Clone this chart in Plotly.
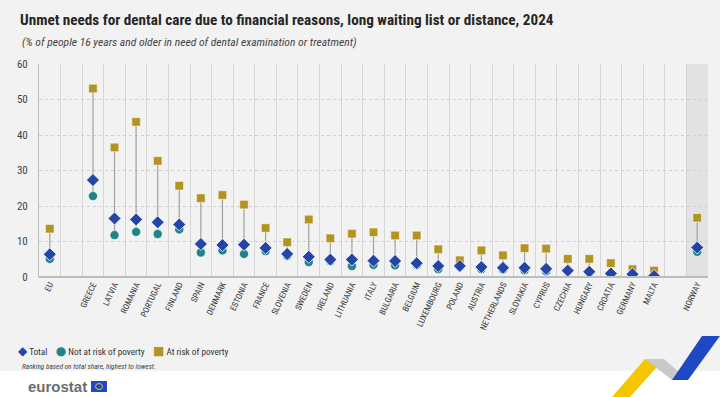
import plotly.graph_objects as go

# ---------------- data ----------------
countries = ["EU", "", "GREECE", "LATVIA", "ROMANIA", "PORTUGAL", "FINLAND", "SPAIN",
             "DENMARK", "ESTONIA", "FRANCE", "SLOVENIA", "SWEDEN", "IRELAND", "LITHUANIA",
             "ITALY", "BULGARIA", "BELGIUM", "LUXEMBOURG", "POLAND", "AUSTRIA",
             "NETHERLANDS", "SLOVAKIA", "CYPRUS", "CZECHIA", "HUNGARY", "CROATIA",
             "GERMANY", "MALTA", " ", "NORWAY"]
total = [6.4, None, 27.3, 16.5, 16.2, 15.4, 14.8, 9.3, 9.0, 9.1, 8.2, 6.5, 5.7, 4.9, 4.9,
         4.6, 4.5, 3.9, 3.1, 3.1, 2.8, 2.6, 2.6, 2.3, 1.8, 1.5, 1.0, 0.8, 0.3, None, 8.3]
not_at_risk = [5.1, None, 22.8, 11.8, 12.7, 12.1, 13.4, 6.9, 7.5, 6.5, 7.3, 6.0, 4.2, 4.5, 3.1,
               3.4, 3.3, 3.4, 2.2, 3.0, 2.2, 2.1, 1.9, 1.6, 1.6, 1.3, 0.8, 0.7, 0.2, None, 7.1]
at_risk = [13.6, None, 53.1, 36.5, 43.7, 32.7, 25.7, 22.2, 23.1, 20.4, 13.8, 9.8, 16.2, 10.9,
           12.2, 12.6, 11.7, 11.7, 7.8, 4.7, 7.5, 6.1, 8.1, 8.0, 5.1, 5.1, 3.9, 2.2, 1.8, None, 16.7]
y_ticks = [0, 10, 20, 30, 40, 50, 60]
series_names = ["Total", "Not at risk of poverty", "At risk of poverty"]

# ---------------- styling ----------------
W, H = 720, 397
ML, MR, MT, MB = 39, 12, 64, 120
FONT = "Liberation Sans Narrow, Roboto Condensed, DejaVu Sans Condensed, Arial Narrow, sans-serif"
BG = "#F2F2F2"
C_TOTAL = "#2644A7"
C_NOT = "#208486"
C_RISK = "#B39422"

xs = list(range(len(countries)))

def px2paper(px, py):
    return (px - ML) / (W - ML - MR), (H - MB - py) / (H - MT - MB)

fig = go.Figure()

# connecting lines min -> max
lx, ly = [], []
for i in xs:
    vals = [v for v in (total[i], not_at_risk[i], at_risk[i]) if v is not None]
    if vals:
        lx += [i, i, None]
        ly += [min(vals), max(vals), None]
fig.add_trace(go.Scatter(x=lx, y=ly, mode="lines", line=dict(color="#A0A0A0", width=1.2),
                         showlegend=False, hoverinfo="skip"))

fig.add_trace(go.Scatter(x=xs, y=at_risk, mode="markers", name=series_names[2],
                         marker=dict(symbol="square", size=8.5, color=C_RISK,
                                     line=dict(color="white", width=0.5))))
fig.add_trace(go.Scatter(x=xs, y=not_at_risk, mode="markers", name=series_names[1],
                         marker=dict(symbol="circle", size=9, color=C_NOT,
                                     line=dict(color="white", width=0.5))))
fig.add_trace(go.Scatter(x=xs, y=total, mode="markers", name=series_names[0],
                         marker=dict(symbol="diamond", size=10, color=C_TOTAL,
                                     line=dict(color="white", width=0.8))))

tick_pos = [i for i, c in enumerate(countries) if c.strip()]
tick_txt = [countries[i] for i in tick_pos]

fig.update_xaxes(range=[-0.5, len(countries) - 0.5], tickmode="array", tickvals=tick_pos,
                 ticktext=tick_txt, tickangle=-65, showgrid=False, zeroline=False,
                 tickfont=dict(family=FONT, size=8.5, color="#333"), ticks="",
                 showline=False,
                 minor=dict(tick0=0.5, dtick=1, showgrid=True, gridcolor="#D6D6D6", gridwidth=1))
fig.update_yaxes(range=[0, 60], tickmode="array", tickvals=y_ticks, showgrid=True,
                 gridcolor="#D0D0D0", griddash="dot", gridwidth=1, zeroline=False,
                 showline=True, linecolor="#BDBDBD", linewidth=1, ticks="",
                 ticklabelstandoff=8,
                 tickfont=dict(family=FONT, size=11, color="#444"))

shapes = []
# white band at the bottom
x0, y0 = px2paper(0, H)
x1, y1 = px2paper(W, 371)
shapes.append(dict(type="rect", xref="paper", yref="paper", x0=x0, x1=x1, y0=y0, y1=y1,
                   fillcolor="white", line=dict(width=0), layer="below"))
# Norway shading
shapes.append(dict(type="rect", xref="x", yref="paper", x0=len(countries) - 1.5,
                   x1=len(countries) - 0.5, y0=0, y1=1, fillcolor="#E2E2E2",
                   line=dict(width=0), layer="below"))
# bottom axis line
shapes.append(dict(type="line", xref="paper", yref="paper", x0=0, x1=1, y0=0, y1=0,
                   line=dict(color="#BDBDBD", width=2)))

def poly(points, color):
    pts = [px2paper(a, b) for a, b in points]
    path = "M " + " L ".join(f"{a:.4f},{b:.4f}" for a, b in pts) + " Z"
    return dict(type="path", xref="paper", yref="paper", path=path, fillcolor=color,
                line=dict(width=0))

# decorative ribbon
shapes.append(poly([(612, 397), (630, 397), (664, 359), (645, 359)], "#F6C500"))
shapes.append(poly([(645, 359), (664, 359), (688, 380), (672, 380)], "#C9C9C9"))
shapes.append(poly([(672, 380), (688, 380), (720, 336), (702, 336)], "#1F48C4"))
# eurostat logo flag
shapes.append(poly([(91, 381), (107, 381), (107, 392), (91, 392)], "#1F48C4"))
lx0, ly0 = px2paper(95.5, 383.5)
lx1, ly1 = px2paper(102.5, 389.5)
shapes.append(dict(type="circle", xref="paper", yref="paper", x0=lx0, x1=lx1, y0=ly1, y1=ly0,
                   line=dict(color="#F6C500", width=1)))

annotations = []
ax, ay = px2paper(89, 386)
annotations.append(dict(xref="paper", yref="paper", x=ax, y=ay, xanchor="right", yanchor="middle",
                        text="<b>eurostat</b>", showarrow=False,
                        font=dict(family="Liberation Sans, Arial, sans-serif", size=15, color="#6D6D6D")))
ax, ay = px2paper(20, 42)
annotations.append(dict(xref="paper", yref="paper", x=ax, y=ay, xanchor="left", yanchor="middle",
                        text="<i>(% of people 16 years and older in need of dental examination or treatment)</i>",
                        showarrow=False, font=dict(family=FONT, size=11.6, color="#444")))
ax, ay = px2paper(20, 366)
annotations.append(dict(xref="paper", yref="paper", x=ax, y=ay, xanchor="left", yanchor="middle",
                        text="<i>Ranking based on total share, highest to lowest.</i>",
                        showarrow=False, font=dict(family=FONT, size=7.3, color="#444")))
# legend row
sym = "font-family:DejaVu Sans;font-size:12px"
legend_html = (f"<span style='color:{C_TOTAL};{sym}'>◆</span> {series_names[0]}"
               f"&nbsp;&nbsp;&nbsp;&nbsp;<span style='color:{C_NOT};{sym}'>●</span> {series_names[1]}"
               f"&nbsp;&nbsp;&nbsp;&nbsp;<span style='color:{C_RISK};{sym}'>■</span> {series_names[2]}")
ax, ay = px2paper(16, 351)
annotations.append(dict(xref="paper", yref="paper", x=ax, y=ay, xanchor="left", yanchor="middle",
                        text=legend_html, showarrow=False,
                        font=dict(family=FONT, size=9.2, color="#333")))

fig.update_layout(
    width=W, height=H, margin=dict(l=ML, r=MR, t=MT, b=MB, autoexpand=False),
    paper_bgcolor=BG, plot_bgcolor=BG, showlegend=False,
    title=dict(text="<b>Unmet needs for dental care due to financial reasons, long waiting list or distance, 2024</b>",
               x=20 / W, xanchor="left", y=1 - 20 / H, yanchor="middle",
               font=dict(family=FONT, size=15.2, color="#262626")),
    shapes=shapes, annotations=annotations,
)

fig.write_html("out.html", config={"displayModeBar": False},
               post_script="document.body.style.margin='0';document.body.style.padding='0';")
